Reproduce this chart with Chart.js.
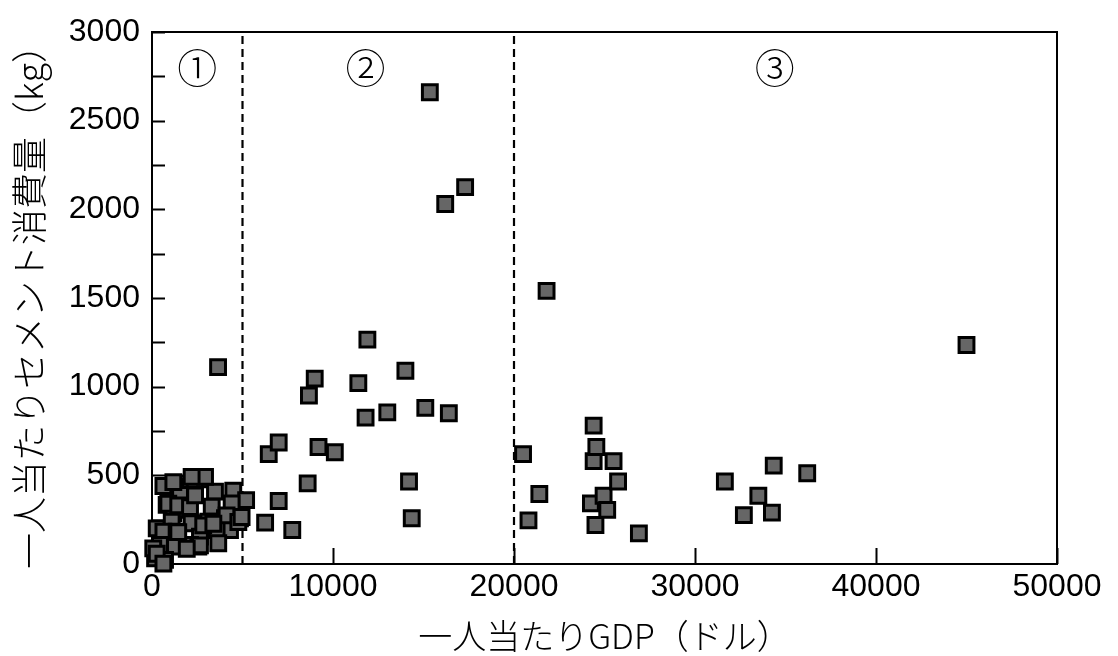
<!DOCTYPE html>
<html>
<head>
<meta charset="utf-8">
<script src="https://cdn.jsdelivr.net/npm/chart.js"></script>
<style>
  body { margin: 0; background: #fff; }
</style>
</head>
<body>
<canvas id="cement" width="1118" height="656"></canvas>
<script>
// per-capita GDP (dollars) and cement consumption (kg), one entry per country
var gdpPerCapita = [
  630, 1550, 2100, 2830, 2360, 3480, 4490, 5200, 810, 1550, 3300, 4400, 1180, 1920, 4860,
  260, 1090, 2190, 3110, 4030, 4310, 630, 1360, 3570, 2650, 440, 1270, 2100, 2560, 3660,
  170, 720, 70, 2930, 1180, 2190, 900, 1450, 4120, 4770, 2830, 3390, 2650, 1450, 1920,
  260, 630, 2100, 2380, 4950, 3650,
  6450, 7000, 7000, 6250, 7750, 8600, 8670, 8990, 9200, 10100, 11400, 11800, 11900, 13000,
  14000, 14200, 14350, 15100, 15350, 16200, 16400, 17300,
  20500, 20800, 21400, 21800, 24250, 24400, 24400, 24500, 24550, 24950, 25150, 25500, 25750,
  26900, 31650, 32700, 33500, 34250, 34350, 36200, 45000
];
var cementPerCapita = [
  440, 455, 436, 478, 474, 408, 413, 360, 333, 389, 323, 342, 286, 305, 258,
  201, 239, 230, 239, 258, 192, 182, 182, 192, 154, 107, 98, 107, 98, 117,
  32, 23, 88, 491, 462, 491, 340, 331, 274, 237, 218, 227, 105, 180, 86,
  58, 2, 321, 387, 265, 1110,
  620, 685, 355, 233, 192, 455, 950, 1045, 660, 630, 1020, 825, 1265, 855,
  1090, 465, 258, 880, 2660, 2030, 850, 2125,
  620, 246, 395, 1540, 342, 780, 580, 220, 660, 385, 305, 580, 465,
  173, 465, 276, 385, 290, 555, 512, 1235
];

// group boundaries and group labels
var boundaryGdp = [5000, 20000];
var zoneLabels = ['①', '②', '③'];
var zoneLabelGdp = [2500, 11800, 34400];
var zoneLabelCement = 2800;

var xTitle = '一人当たりGDP（ドル）';
var yTitle = '一人当たりセメント消費量（kg）';

var points = gdpPerCapita.map(function (g, i) { return {x: g, y: cementPerCapita[i]}; });

var datasets = boundaryGdp.map(function (b) {
  return {
    type: 'line',
    data: [{x: b, y: 0}, {x: b, y: 3000}],
    borderColor: '#000',
    borderWidth: 2.2,
    borderDash: [8, 5],
    pointRadius: 0,
    order: 2
  };
});
datasets.push({
  type: 'scatter',
  data: points,
  pointStyle: 'rect',
  pointRadius: 10.5,
  backgroundColor: '#666666',
  borderColor: '#000',
  borderWidth: 3,
  clip: false,
  order: 1
});

var tickFont = {family: "'Liberation Sans', Arial, sans-serif", size: 32};
var jpFont = "'Noto Sans CJK JP', sans-serif";

// frame, inward ticks and the circled group numbers
var framePlugin = {
  id: 'frame',
  beforeDatasetsDraw: function (chart) {
    var ctx = chart.ctx, a = chart.chartArea;
    var xs = chart.scales.x, ys = chart.scales.y;
    ctx.save();
    ctx.strokeStyle = '#000';
    ctx.lineWidth = 2;
    ctx.strokeRect(a.left, a.top, a.right - a.left, a.bottom - a.top);
    ctx.beginPath();
    ys.ticks.forEach(function (t) {
      var y = Math.round(ys.getPixelForValue(t.value)) + 0.5;
      ctx.moveTo(a.left, y);
      ctx.lineTo(a.left + 13, y);
    });
    xs.ticks.forEach(function (t) {
      var x = Math.round(xs.getPixelForValue(t.value)) + 0.5;
      ctx.moveTo(x, a.bottom);
      ctx.lineTo(x, a.bottom - 16);
    });
    ctx.stroke();
    ctx.fillStyle = '#000';
    ctx.font = '300 40px ' + jpFont;
    ctx.textAlign = 'center';
    ctx.textBaseline = 'middle';
    zoneLabels.forEach(function (s, i) {
      ctx.fillText(s, xs.getPixelForValue(zoneLabelGdp[i]), ys.getPixelForValue(zoneLabelCement));
    });
    ctx.restore();
  }
};

new Chart(document.getElementById('cement').getContext('2d'), {
  data: {datasets: datasets},
  options: {
    responsive: false,
    animation: false,
    layout: {padding: {top: 32, right: 61, left: 0, bottom: 0}},
    plugins: {legend: {display: false}, tooltip: {enabled: false}},
    scales: {
      x: {
        type: 'linear',
        min: 0,
        max: 50000,
        grid: {display: false, drawTicks: false},
        border: {display: false},
        ticks: {
          stepSize: 10000,
          color: '#000',
          font: tickFont,
          padding: 4,
          maxRotation: 0,
          callback: function (v) { return String(v); }
        },
        title: {display: true, text: xTitle, color: '#000', font: {family: jpFont, size: 34, weight: '300'}, padding: 0},
        afterFit: function (s) { s.height = 92; }
      },
      y: {
        type: 'linear',
        min: 0,
        max: 3000,
        grid: {display: false, drawTicks: false},
        border: {display: false},
        ticks: {
          stepSize: 250,
          color: '#000',
          font: tickFont,
          padding: 12,
          autoSkip: false,
          callback: function (v) { return v % 500 === 0 ? String(v) : ''; }
        },
        title: {display: true, text: yTitle, color: '#000', font: {family: jpFont, size: 36, weight: '300'}, padding: {top: 8, bottom: 0}},
        afterFit: function (s) { s.width = 152; }
      }
    }
  },
  plugins: [framePlugin]
});
</script>
</body>
</html>
